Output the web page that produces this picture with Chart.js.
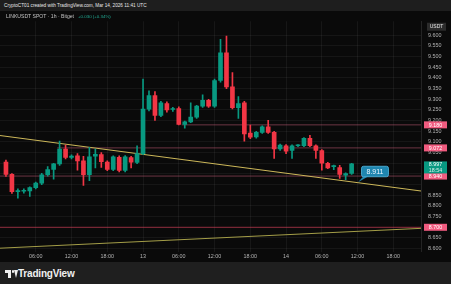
<!DOCTYPE html>
<html><head><meta charset="utf-8">
<script src="https://cdn.jsdelivr.net/npm/chart.js@4.4.1/dist/chart.umd.min.js"></script>
<style>
html,body{margin:0;padding:0;background:#1e1e1e;width:451px;height:284px;overflow:hidden;font-family:"Liberation Sans",Arial,sans-serif}
#top{position:absolute;left:0;top:0;width:451px;height:11px;background:#1e1e1e;color:#e8e8e8;font-size:4.7px;line-height:11px;padding-left:4px;box-sizing:border-box;white-space:nowrap}
#wrap{position:absolute;left:0;top:11px;width:451px;height:251px;background:#0a0a0a}
#legend{position:absolute;left:6px;top:13px;font-size:5.1px;line-height:6px;color:#c4c4c4;white-space:nowrap;z-index:2}
#legend .chg{color:#22ab94;margin-left:4px;font-size:4.4px}
#foot{position:absolute;left:0;top:262px;width:451px;height:22px;background:#1f1f1f}
#logo{position:absolute;left:5px;top:269px;height:10px;width:12px}
#brand{position:absolute;left:18px;top:267px;font-size:10px;line-height:13px;font-weight:bold;color:#f0f0f0;letter-spacing:-0.2px}
</style></head>
<body>
<div id="top">CryptoCT01 created with TradingView.com, Mar 14, 2026 11:41 UTC</div>
<div id="wrap"><canvas id="c" width="451" height="251"></canvas></div>
<div id="legend">LINKUSDT SPOT · 1h · Bitget<span class="chg">+0.030 (+0.34%)</span></div>
<div id="foot"></div>
<div id="logo">
  <div style="position:absolute;left:0;top:1px;width:6px;height:3px;background:#f0f0f0"></div>
  <div style="position:absolute;left:3px;top:1px;width:3px;height:8px;background:#f0f0f0"></div>
  <div style="position:absolute;left:6.5px;top:1px;width:2.5px;height:2.5px;border-radius:50%;background:#f0f0f0"></div>
  <div style="position:absolute;left:7px;top:1px;width:0;height:0;border-left:2.5px solid transparent;border-right:2.5px solid transparent;border-top:8px solid #f0f0f0;transform:translateX(2px)"></div>
</div>
<div id="brand">TradingView</div>
<script>
// ---- data ----
const candleHours = [1,2,3,4,5,6,7,8,9,10,11,12,13,14,15,16,17,18,19,20,21,22,23,24,25,26,27,28,29,30,31,32,33,34,35,36,37,38,39,40,41,42,43,44,45,46,47,48,49,50,51,52,53,54,55,56,57,58,59];
const opens  = [9.005,8.948,8.867,8.869,8.870,8.886,8.907,8.946,8.971,8.997,9.067,9.027,9.035,9.012,8.946,9.033,9.041,9.005,8.971,9.028,8.966,9.027,9.004,9.045,9.254,9.317,9.224,9.280,9.252,9.256,9.182,9.194,9.216,9.268,9.295,9.268,9.388,9.518,9.358,9.261,9.283,9.142,9.124,9.145,9.171,9.145,9.067,9.082,9.060,9.082,9.082,9.117,9.082,9.060,9.000,8.984,8.980,8.944,8.952];
const highs  = [9.015,8.952,8.880,8.880,8.890,8.912,8.953,8.984,9.000,9.104,9.085,9.040,9.045,9.032,9.075,9.067,9.050,9.012,9.035,9.035,9.036,9.032,9.082,9.395,9.340,9.336,9.290,9.288,9.262,9.265,9.198,9.283,9.272,9.321,9.300,9.395,9.581,9.596,9.425,9.313,9.290,9.179,9.150,9.176,9.201,9.150,9.090,9.088,9.086,9.088,9.120,9.131,9.086,9.064,9.004,8.992,8.990,8.955,9.000];
const lows   = [8.938,8.859,8.837,8.860,8.845,8.880,8.900,8.940,8.926,8.990,9.020,9.020,8.968,8.896,8.919,8.978,8.981,8.965,8.965,8.960,8.960,8.978,8.998,9.040,9.245,9.201,9.218,9.240,9.243,9.180,9.164,9.190,9.210,9.262,9.262,9.262,9.380,9.350,9.255,9.210,9.104,9.115,9.118,9.140,9.140,9.023,9.060,9.045,9.023,9.078,9.078,9.078,9.023,8.968,8.975,8.970,8.929,8.923,8.948];
const closes = [8.948,8.867,8.872,8.872,8.886,8.907,8.946,8.971,8.997,9.067,9.027,9.034,9.011,8.946,9.030,9.042,9.008,8.971,9.030,8.966,9.030,9.005,9.045,9.254,9.317,9.224,9.283,9.250,9.256,9.182,9.194,9.216,9.268,9.295,9.268,9.388,9.518,9.358,9.261,9.280,9.138,9.122,9.145,9.171,9.145,9.067,9.085,9.057,9.082,9.085,9.117,9.082,9.060,9.000,8.978,8.986,8.948,8.952,8.997];

const xTickHours  = [6,12,18,24,30,36,42,48,54,60,66];
const xTickLabels = ['06:00','12:00','18:00','13','06:00','12:00','18:00','14','06:00','12:00','18:00'];
const yTickValues = [8.60,8.65,8.70,8.75,8.80,8.85,8.90,8.95,9.00,9.05,9.10,9.15,9.20,9.25,9.30,9.35,9.40,9.45,9.50,9.55,9.60];
const yTickHidden = [8.70,8.90,8.95,9.00];

// horizontal levels: price and start hour
const levelPrices = [9.180, 9.072, 8.940, 8.700];
const levelStarts = [30.5, 9.6, 0, 0];
// trend lines: [hour, price] end points
const trendDown = [[0, 9.130], [70.64, 8.870]];
const trendUp   = [[0, 8.602], [70.64, 8.695]];
const calloutPoint = [60.07, 8.911];
const lastPrice = 8.997;
const countdown = '18:54';

// ---- build ----
const GREEN = '#089981', RED = '#f23645';
const candleColors = opens.map((o,i)=> closes[i] >= o ? GREEN : RED);
const bodies = candleHours.map((h,i)=>({x:h, y:[opens[i], closes[i]]}));
const wicks  = candleHours.map((h,i)=>({x:h, y:[lows[i], highs[i]]}));
const levelColors = ['rgba(190,90,115,0.55)','rgba(190,90,115,0.55)','rgba(190,90,115,0.55)','rgba(200,55,80,0.7)'];
const levelSets = levelPrices.map((p,i)=>({
  type:'line', data:[{x:levelStarts[i], y:p},{x:70.64, y:p}], borderColor:levelColors[i],
  borderWidth:1, pointRadius:0, order:5
}));

const overlay = {
  id:'overlay',
  afterDatasetsDraw(chart){
    const ctx = chart.ctx, y = chart.scales.y, x = chart.scales.x, ca = chart.chartArea;
    const bx = ca.right + 3, bw = 23;
    ctx.save();
    ctx.textAlign = 'center'; ctx.textBaseline = 'middle';
    levelPrices.forEach((p)=>{
      const py = y.getPixelForValue(p);
      ctx.fillStyle = '#f05b7f';
      ctx.fillRect(bx, py-3.5, bw, 7);
      ctx.fillStyle = '#ffffff';
      ctx.font = '5.3px "Liberation Sans", Arial, sans-serif';
      ctx.fillText(p.toFixed(3), bx + bw/2, py+0.3);
    });
    const ly = y.getPixelForValue(lastPrice);
    ctx.fillStyle = GREEN;
    ctx.fillRect(bx, ly-2.5, bw, 12);
    ctx.fillStyle = '#ffffff';
    ctx.font = '5.3px "Liberation Sans", Arial, sans-serif';
    ctx.fillText(lastPrice.toFixed(3), bx + bw/2, ly+0.8);
    ctx.fillStyle = '#d9f2ec';
    ctx.fillText(countdown, bx + bw/2, ly+6.2);
    ctx.fillStyle = '#2b2b2b';
    ctx.fillRect(bx+3, ca.top+1.5, 19, 8);
    ctx.fillStyle = '#e6e6e6';
    ctx.font = '5px "Liberation Sans", Arial, sans-serif';
    ctx.fillText('USDT', bx+12.5, ca.top+5.7);
    const ax = x.getPixelForValue(calloutPoint[0]), ay = y.getPixelForValue(calloutPoint[1]);
    const rx = ax+3.5, ry = ay-16, rw = 27, rh = 10.5;
    ctx.fillStyle = '#1f86b0';
    ctx.beginPath();
    ctx.moveTo(ax, ay); ctx.lineTo(rx+2, ry+rh-0.5); ctx.lineTo(rx+7, ry+rh-0.5); ctx.closePath(); ctx.fill();
    ctx.beginPath();
    if (ctx.roundRect) ctx.roundRect(rx, ry, rw, rh, 2); else ctx.rect(rx, ry, rw, rh);
    ctx.fill();
    ctx.strokeStyle = '#52b8e0'; ctx.lineWidth = 0.8; ctx.stroke();
    ctx.fillStyle = '#eaf6ff';
    ctx.font = '7px "Liberation Sans", Arial, sans-serif';
    ctx.fillText(calloutPoint[1].toFixed(3), rx + rw/2, ry + rh/2 + 0.5);
    ctx.restore();
  }
};

new Chart(document.getElementById('c'), {
  type:'bar',
  data:{ datasets:[
    {type:'bar', data:bodies, backgroundColor:candleColors, borderWidth:0, barThickness:4, grouped:false, minBarLength:1, order:1},
    {type:'bar', data:wicks, backgroundColor:candleColors, borderWidth:0, barThickness:1, grouped:false, order:2},
    {type:'line', data:trendDown.map(p=>({x:p[0],y:p[1]})), borderColor:'#cdb85a', borderWidth:1, pointRadius:0, order:3},
    {type:'line', data:trendUp.map(p=>({x:p[0],y:p[1]})), borderColor:'#a49e48', borderWidth:1, pointRadius:0, order:3},
    ...levelSets
  ]},
  options:{
    responsive:false, animation:false, devicePixelRatio:1,
    layout:{padding:0},
    plugins:{legend:{display:false}, tooltip:{enabled:false}},
    scales:{
      x:{ type:'linear', min:0, max:70.64, offset:false,
        afterBuildTicks(s){ s.ticks = xTickHours.map(v=>({value:v})); },
        afterFit(s){ s.height = 9; },
        ticks:{ color:'#b4b4b4', font:{size:5.4, family:'"Liberation Sans", Arial, sans-serif'}, padding:1.5, maxRotation:0, autoSkip:false,
          callback(v){ const i = xTickHours.indexOf(v); return i>=0 ? xTickLabels[i] : ''; } },
        grid:{ color:'rgba(255,255,255,0.055)', drawTicks:false, offset:false },
        border:{ display:false }
      },
      y:{ type:'linear', position:'right', min:8.5853, max:9.6656,
        afterBuildTicks(s){ s.ticks = yTickValues.map(v=>({value:v})); },
        afterFit(s){ s.width = 30; },
        ticks:{ color:'#b4b4b4', font:{size:5.4, family:'"Liberation Sans", Arial, sans-serif'}, padding:7,
          callback(v){ return yTickHidden.some(h=>Math.abs(h-v)<1e-6) ? '' : v.toFixed(3); } },
        grid:{ color:'rgba(255,255,255,0.05)', drawTicks:false },
        border:{ display:true, color:'#242424' }
      }
    }
  },
  plugins:[overlay]
});
</script>
</body></html>
